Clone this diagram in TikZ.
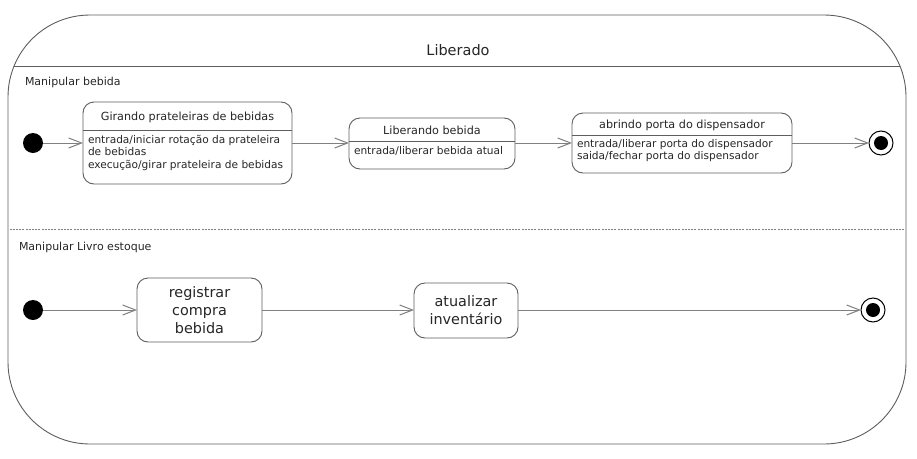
\documentclass[tikz,border=0pt]{standalone}
\usepackage{fontspec}
\setmainfont{DejaVu Sans}
\usetikzlibrary{arrows.meta}
\definecolor{linec}{HTML}{808080}
\definecolor{boxc}{HTML}{5E5E5E}
\definecolor{txtc}{HTML}{262626}
\begin{document}
\begin{tikzpicture}[x=1pt,y=-1pt,
  every node/.style={text=txtc, inner sep=0pt, outer sep=0pt},
  outerbox/.style={draw=boxc, line width=0.9pt, rounded corners=82pt},
  statebox/.style={draw=boxc, line width=0.9pt, rounded corners=11pt, fill=white},
  sep/.style={draw=boxc, line width=0.9pt},
  trans/.style={draw=linec, line width=1pt, -{Straight Barb[length=13pt,width=10pt,line width=1pt]}},
  initst/.style={circle, fill=black, minimum size=20pt},
  finalst/.style={circle, draw=black, line width=1pt, fill=white, minimum size=24pt},
  finaldot/.style={circle, fill=black, minimum size=14pt},
  ttl/.style={font=\fontsize{11.2}{13}\selectfont},
  body/.style={font=\fontsize{10.6}{12.5}\selectfont, align=left, anchor=west},
  big/.style={font=\fontsize{14.4}{18}\selectfont, align=center},
  lane/.style={font=\fontsize{11}{13}\selectfont, anchor=west}
]
\useasboundingbox (0,0) rectangle (917,458);
\fill[white] (0,0) rectangle (917,458);

% outer state
\draw[outerbox] (8,15) rectangle (906,444);
\begin{scope}
  \clip[rounded corners=82pt] (8,15) rectangle (906,444);
  \draw[boxc, line width=0.9pt] (0,66) -- (917,66);
  \draw[linec, line width=0.8pt, dash pattern=on 2pt off 1.2pt] (0,229) -- (917,229);
\end{scope}
\node[font=\fontsize{14.5}{17}\selectfont] (title) at (458,50) {Liberado};

% region 1
\node[lane] (lane1) at (25,82) {Manipular bebida};

\node[initst] (i1) at (33,143) {};

\node[statebox, minimum width=209pt, minimum height=82pt] (s1) at (187.5,143) {};
\draw[sep] (83,130) -- (292,130);
\node[ttl] (s1t) at (187.5,117) {Girando prateleiras de bebidas};
\node[body] (s1b) at (88,152.5) {entrada/iniciar rotação da prateleira\\de bebidas\\execução/girar prateleira de bebidas};

\node[statebox, minimum width=166pt, minimum height=51pt] (s2) at (432,143.5) {};
\draw[sep] (349,141) -- (515,141);
\node[ttl] (s2t) at (432,130) {Liberando bebida};
\node[body] (s2b) at (354,151) {entrada/liberar bebida atual};

\node[statebox, minimum width=220pt, minimum height=60pt] (s3) at (682,143) {};
\draw[sep] (572,135) -- (792,135);
\node[ttl] (s3t) at (682,125) {abrindo porta do dispensador};
\node[body] (s3b) at (577,150.5) {entrada/liberar porta do dispensador\\saida/fechar porta do dispensador};

\node[finalst] (f1) at (881,143) {};
\node[finaldot] (f1d) at (881,143) {};

\draw[trans] (i1.east) -- (s1.west |- i1.east);
\draw[trans] (s1.east |- i1.east) -- (s2.west |- i1.east);
\draw[trans] (s2.east |- i1.east) -- (s3.west |- i1.east);
\draw[trans] (s3.east |- i1.east) -- (f1.west);

% region 2
\node[lane] (lane2) at (19,247) {Manipular Livro estoque};

\node[initst] (i2) at (33,310) {};

\node[statebox, minimum width=125pt, minimum height=64pt] (s4) at (199.5,310) {};
\node[big] (s4t) at (199.5,310) {registrar\\compra\\bebida};

\node[statebox, minimum width=104pt, minimum height=55pt] (s5) at (466,310.5) {};
\node[big] (s5t) at (466,310.5) {atualizar\\inventário};

\node[finalst] (f2) at (873,310) {};
\node[finaldot] (f2d) at (873,310) {};

\draw[trans] (i2.east) -- (s4.west |- i2.east);
\draw[trans] (s4.east |- i2.east) -- (s5.west |- i2.east);
\draw[trans] (s5.east |- i2.east) -- (f2.west);
\end{tikzpicture}
\end{document}
